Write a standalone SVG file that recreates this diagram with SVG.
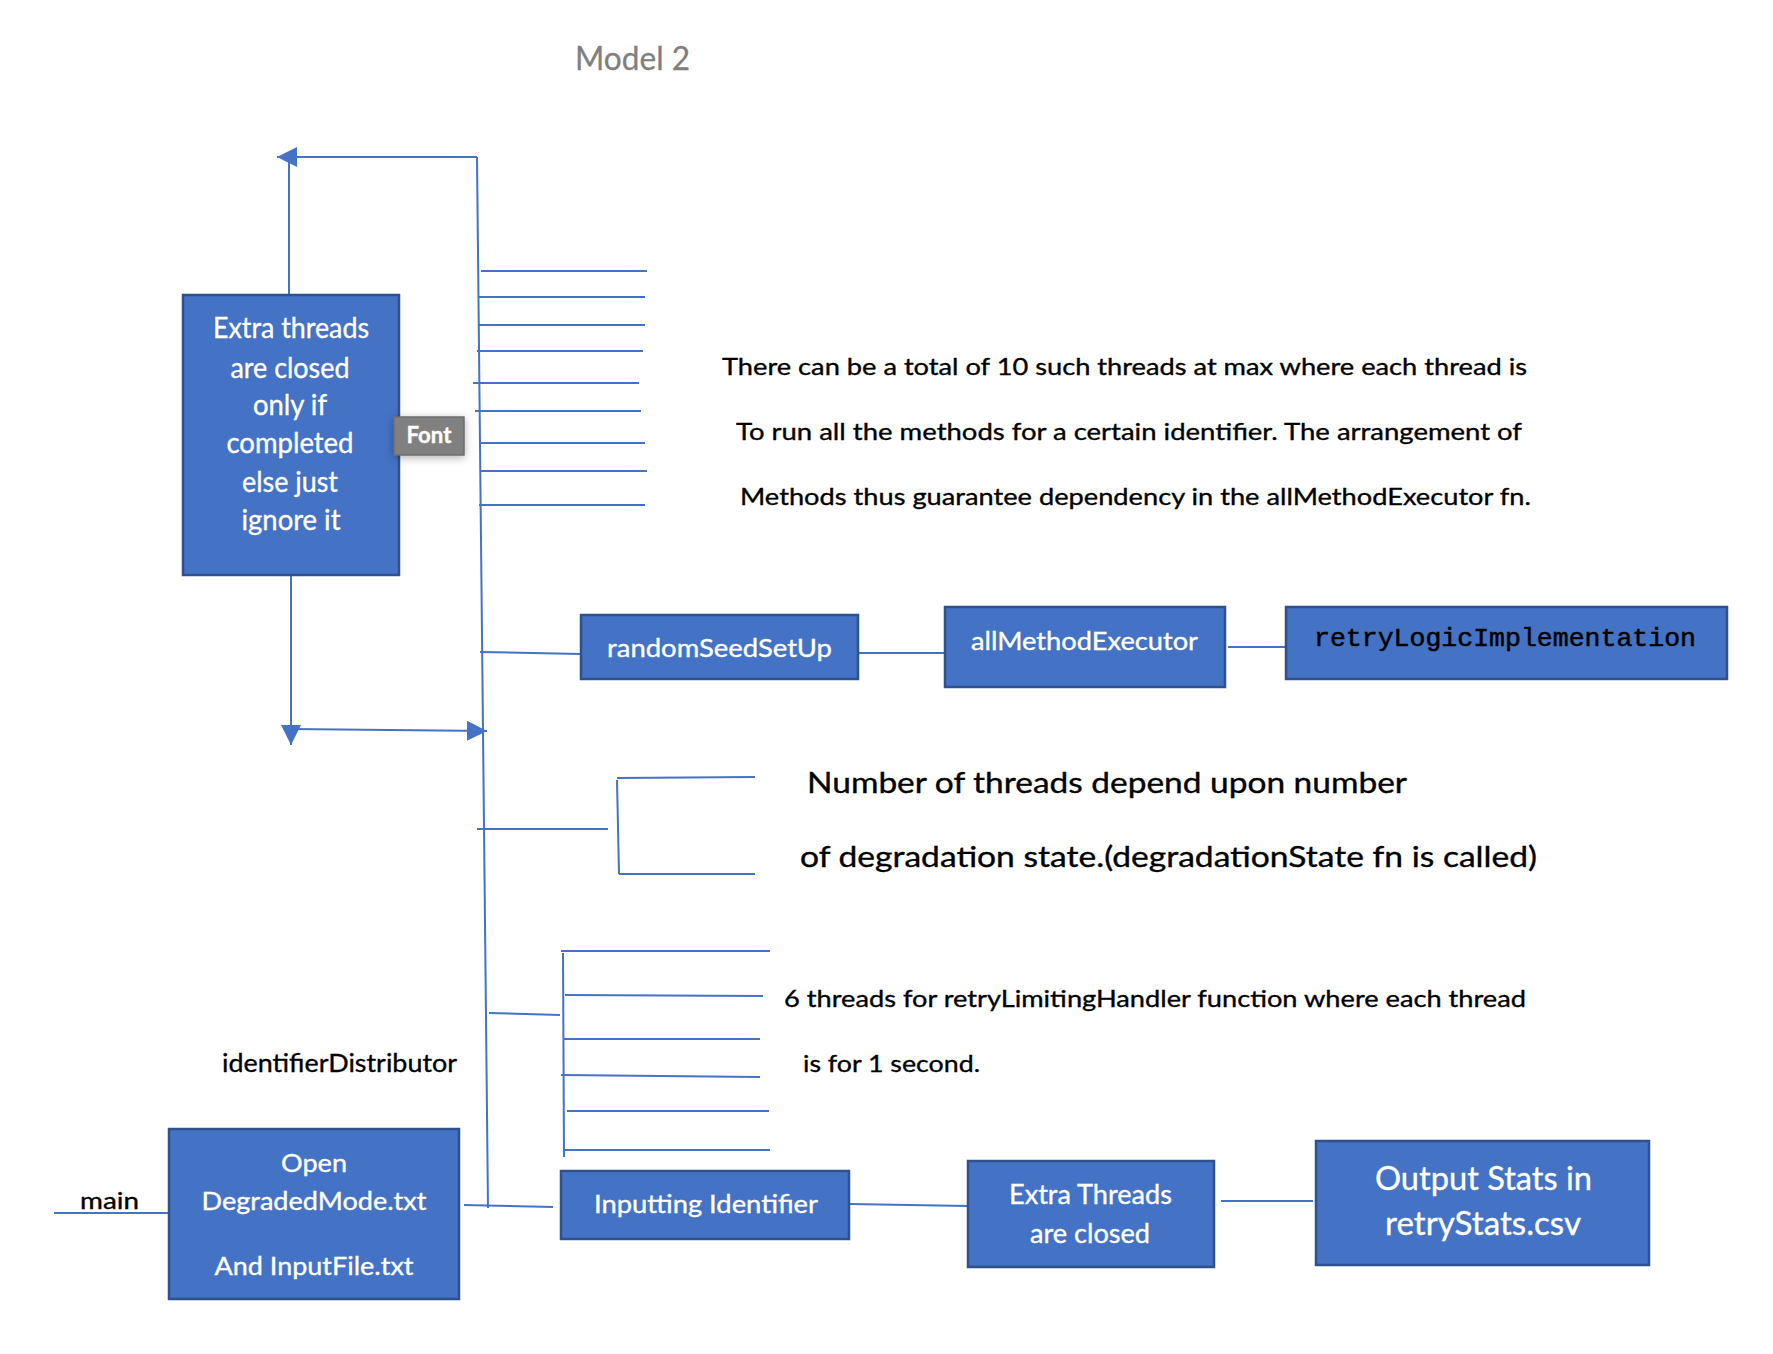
<svg xmlns="http://www.w3.org/2000/svg" width="1773" height="1354" viewBox="0 0 1773 1354">
<style>
.box{fill:#4472C4;stroke:#2F528F;stroke-width:2.5}
.wt{fill:#ffffff;stroke:#ffffff;stroke-width:0.35;font-family:Lato,"Open Sans","Liberation Sans",sans-serif;text-anchor:middle}
.bt{fill:#000000;stroke:#000000;stroke-width:0.35;font-family:Lato,"Open Sans","Liberation Sans",sans-serif}
.mono{fill:#000000;stroke:#000000;stroke-width:0.5;font-family:"Liberation Mono","DejaVu Sans Mono",monospace}
.ln{stroke:#4472C4;stroke-width:2;fill:none}
</style>
<defs>
<marker id="ah" viewBox="0 0 20 20" refX="20" refY="10" markerWidth="20" markerHeight="20" markerUnits="userSpaceOnUse" orient="auto">
<path d="M0,0 L20,10 L0,20 Z" fill="#4472C4"/>
</marker>
<filter id="sh" x="-30%" y="-30%" width="160%" height="160%">
<feDropShadow dx="0" dy="2" stdDeviation="4" flood-color="#000000" flood-opacity="0.3"/>
</filter>
</defs>
<rect width="1773" height="1354" fill="#ffffff"/>
<text x="575" y="70" font-family="Lato,'Open Sans',sans-serif" font-size="32" fill="#7F7F7F" stroke="#7F7F7F" stroke-width="0.3" textLength="115" lengthAdjust="spacingAndGlyphs">Model 2</text>

<g id="connectors">
<line class="ln" x1="477" y1="157" x2="488" y2="1208"/>
<line class="ln" x1="477" y1="157" x2="277" y2="157" marker-end="url(#ah)"/>
<line class="ln" x1="289" y1="295" x2="289" y2="157"/>
<line class="ln" x1="291" y1="575" x2="291" y2="745" marker-end="url(#ah)"/>
<line class="ln" x1="291" y1="729" x2="487" y2="731" marker-end="url(#ah)"/>
<line class="ln" x1="481" y1="271" x2="647" y2="271"/>
<line class="ln" x1="479" y1="297" x2="645" y2="297"/>
<line class="ln" x1="479" y1="325" x2="645" y2="325"/>
<line class="ln" x1="477" y1="351" x2="643" y2="351"/>
<line class="ln" x1="473" y1="383" x2="639" y2="383"/>
<line class="ln" x1="475" y1="411" x2="641" y2="411"/>
<line class="ln" x1="480" y1="443" x2="645" y2="443"/>
<line class="ln" x1="480" y1="471" x2="647" y2="471"/>
<line class="ln" x1="479" y1="505" x2="645" y2="505"/>
<line class="ln" x1="480" y1="652" x2="581" y2="654"/>
<line class="ln" x1="858" y1="653" x2="945" y2="653"/>
<line class="ln" x1="1228" y1="647" x2="1286" y2="647"/>
<line class="ln" x1="477" y1="829" x2="608" y2="829"/>
<line class="ln" x1="617" y1="780" x2="619" y2="874"/>
<line class="ln" x1="617" y1="778" x2="755" y2="777"/>
<line class="ln" x1="619" y1="874" x2="755" y2="874"/>
<line class="ln" x1="489" y1="1013" x2="560" y2="1015"/>
<line class="ln" x1="563" y1="953" x2="564" y2="1157"/>
<line class="ln" x1="561" y1="951" x2="770" y2="951"/>
<line class="ln" x1="565" y1="995" x2="763" y2="996"/>
<line class="ln" x1="564" y1="1039" x2="760" y2="1039"/>
<line class="ln" x1="561" y1="1075" x2="760" y2="1077"/>
<line class="ln" x1="567" y1="1111" x2="769" y2="1111"/>
<line class="ln" x1="564" y1="1150" x2="770" y2="1150"/>
<line class="ln" x1="54" y1="1213" x2="169" y2="1213"/>
<line class="ln" x1="464" y1="1205" x2="553" y2="1207"/>
<line class="ln" x1="850" y1="1204" x2="968" y2="1206"/>
<line class="ln" x1="1221" y1="1201" x2="1313" y2="1201"/>
</g>

<g id="extra-threads-ignore">
<rect class="box" x="183" y="295" width="216" height="280"/>
<text class="wt" font-size="28" x="291" y="338" textLength="156" lengthAdjust="spacingAndGlyphs">Extra threads</text>
<text class="wt" font-size="28" x="290" y="378" textLength="119" lengthAdjust="spacingAndGlyphs">are closed</text>
<text class="wt" font-size="28" x="290" y="415" textLength="74" lengthAdjust="spacingAndGlyphs">only if</text>
<text class="wt" font-size="28" x="290" y="453" textLength="127" lengthAdjust="spacingAndGlyphs">completed</text>
<text class="wt" font-size="28" x="290" y="492" textLength="96" lengthAdjust="spacingAndGlyphs">else just</text>
<text class="wt" font-size="28" x="291" y="530" textLength="99" lengthAdjust="spacingAndGlyphs">ignore it</text>
</g>

<g id="font-tooltip">
<rect x="394" y="417" width="70" height="38" fill="#808080" stroke="#6E6E6E" stroke-width="1.5" filter="url(#sh)"/>
<text class="wt" font-size="22" font-weight="bold" x="429" y="443" textLength="45" lengthAdjust="spacingAndGlyphs">Font</text>
</g>

<g id="note-threads">
<text class="bt" font-size="24" x="722" y="375" textLength="805" lengthAdjust="spacingAndGlyphs">There can be a total of 10 such threads at max where each thread is</text>
<text class="bt" font-size="24" x="736" y="440" textLength="786" lengthAdjust="spacingAndGlyphs">To run all the methods for a certain identifier. The arrangement of</text>
<text class="bt" font-size="24" x="740" y="505" textLength="791" lengthAdjust="spacingAndGlyphs">Methods thus guarantee dependency in the allMethodExecutor fn.</text>
</g>

<g id="randomSeedSetUp">
<rect class="box" x="581" y="615" width="277" height="64"/>
<text class="wt" font-size="25" x="719.5" y="657" textLength="225" lengthAdjust="spacingAndGlyphs">randomSeedSetUp</text>
</g>

<g id="allMethodExecutor">
<rect class="box" x="945" y="607" width="280" height="80"/>
<text class="wt" font-size="25" x="1084.5" y="650" textLength="227" lengthAdjust="spacingAndGlyphs">allMethodExecutor</text>
</g>

<g id="retryLogicImplementation">
<rect class="box" x="1286" y="607" width="441" height="72"/>
<text class="mono" font-size="26" x="1314" y="646" textLength="382" lengthAdjust="spacingAndGlyphs">retryLogicImplementation</text>
</g>

<g id="note-degradation">
<text class="bt" font-size="28" x="807" y="793" textLength="600" lengthAdjust="spacingAndGlyphs">Number of threads depend upon number</text>
<text class="bt" font-size="28" x="800" y="867" textLength="737" lengthAdjust="spacingAndGlyphs">of degradation state.(degradationState fn is called)</text>
</g>

<g id="note-retry">
<text class="bt" font-size="24" x="784" y="1007" textLength="742" lengthAdjust="spacingAndGlyphs">6 threads for retryLimitingHandler function where each thread</text>
<text class="bt" font-size="24" x="803" y="1072" textLength="177" lengthAdjust="spacingAndGlyphs">is for 1 second.</text>
</g>

<g id="identifierDistributor">
<text class="bt" font-size="25" x="222" y="1072" textLength="235" lengthAdjust="spacingAndGlyphs">identifierDistributor</text>
</g>

<g id="main">
<text class="bt" font-size="24" x="80" y="1209" textLength="59" lengthAdjust="spacingAndGlyphs">main</text>
</g>

<g id="open-files">
<rect class="box" x="169" y="1129" width="290" height="170"/>
<text class="wt" font-size="25" x="314" y="1172" textLength="66" lengthAdjust="spacingAndGlyphs">Open</text>
<text class="wt" font-size="25" x="314" y="1210" textLength="225" lengthAdjust="spacingAndGlyphs">DegradedMode.txt</text>
<text class="wt" font-size="25" x="314" y="1275" textLength="199" lengthAdjust="spacingAndGlyphs">And InputFile.txt</text>
</g>

<g id="inputting-identifier">
<rect class="box" x="561" y="1171" width="288" height="68"/>
<text class="wt" font-size="25" x="706" y="1213" textLength="224" lengthAdjust="spacingAndGlyphs">Inputting Identifier</text>
</g>

<g id="extra-threads-closed">
<rect class="box" x="968" y="1161" width="246" height="106"/>
<text class="wt" font-size="26" x="1090.5" y="1204" textLength="163" lengthAdjust="spacingAndGlyphs">Extra Threads</text>
<text class="wt" font-size="26" x="1090" y="1243" textLength="120" lengthAdjust="spacingAndGlyphs">are closed</text>
</g>

<g id="output-stats">
<rect class="box" x="1316" y="1141" width="333" height="124"/>
<text class="wt" font-size="33" x="1483.5" y="1190" textLength="217" lengthAdjust="spacingAndGlyphs">Output Stats in</text>
<text class="wt" font-size="33" x="1483" y="1235" textLength="196" lengthAdjust="spacingAndGlyphs">retryStats.csv</text>
</g>
</svg>
